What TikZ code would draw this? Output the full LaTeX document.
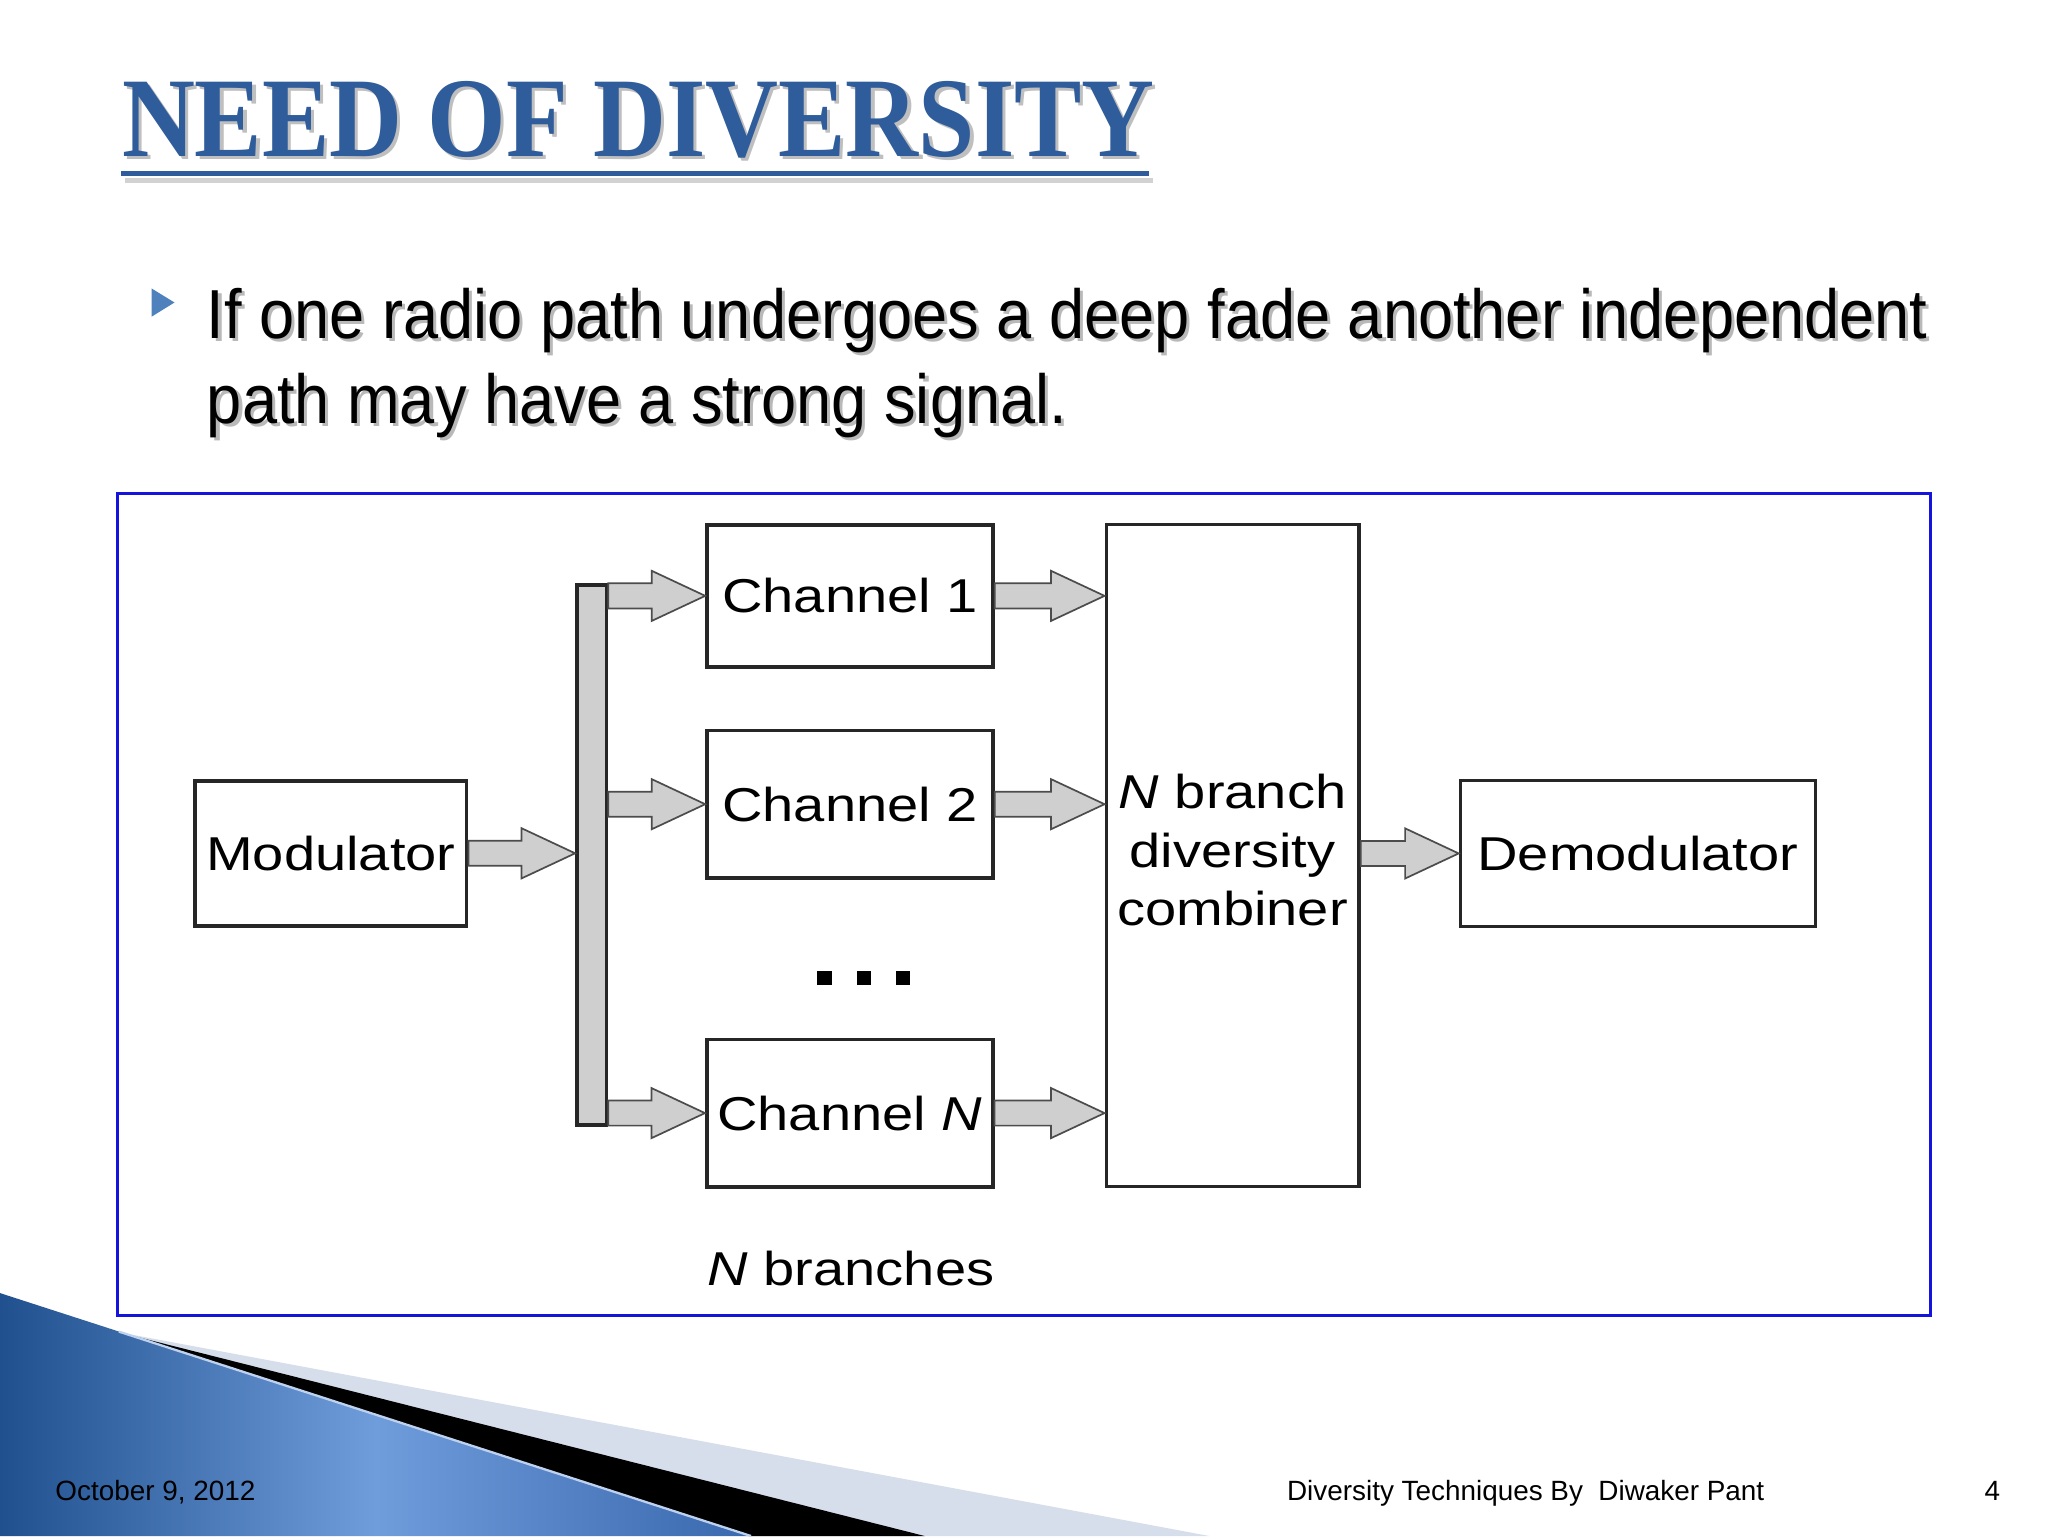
\documentclass[tikz,border=0pt]{standalone}
\usepackage{fontspec}
\usepackage{graphicx}
\setmainfont{Liberation Sans}
\newfontfamily\titlefont{Liberation Serif}
\usetikzlibrary{calc}
\definecolor{titleblue}{HTML}{2F5C9A}
\definecolor{bulblue}{HTML}{4F81BD}
\definecolor{framblue}{HTML}{1414DC}
\definecolor{swdark}{HTML}{20508E}
\definecolor{swlight}{HTML}{6F9CDB}
\definecolor{swmid}{HTML}{3A68AE}
\definecolor{swpale}{HTML}{D6DEEC}
\definecolor{busgray}{HTML}{CFCFCF}
\newcommand\upx{0.4592pt}
\newcommand\diag{\fontsize{16.7}{20.5}\selectfont}
\newcommand\wide[1]{\scalebox{1.18}[1]{#1}}
\newcommand\ttlraw{\titlefont\bfseries\fontsize{39.9}{40}\selectfont\scalebox{0.89}[1]{NEED OF DIVERSITY}}
\newcommand\ttl{\rlap{\kern1.1pt\raisebox{-1.1pt}{\color{gray!50}\ttlraw}}{\color{titleblue}\ttlraw}}
\newcommand\shadowed[1]{\rlap{\kern1.1pt\raisebox{-1.1pt}{\color{gray!55}\scalebox{0.91}[1]{#1}}}\scalebox{0.91}[1]{#1}}
\begin{document}
\begin{tikzpicture}[x=0.4592pt,y=-0.4592pt,
  box/.style={draw=black!85,line width=1.25pt,fill=white,inner sep=0pt,font=\diag},
  busbar/.style={draw=black!85,line width=1.25pt,fill=busgray,inner sep=0pt},
  barrow/.style={draw=black!70,fill=busgray,line width=0.6pt,
    to path={let \p1=(\tikztostart), \p2=(\tikztotarget) in
      (\x1,\y2+9.6*\upx) -- (\x2-41*\upx,\y2+9.6*\upx) -- (\x2-41*\upx,\y2+19.2*\upx)
      -- (\x2,\y2) -- (\x2-41*\upx,\y2-19.2*\upx) -- (\x2-41*\upx,\y2-9.6*\upx)
      -- (\x1,\y2-9.6*\upx) -- cycle}},
  plain/.style={inner sep=0pt,font=\diag},
  foot/.style={inner sep=0pt,font=\fontsize{9.8}{11}\selectfont,text=black},
  bullettext/.style={inner sep=0pt,font=\fontsize{24.4}{29.85}\selectfont},
]
\useasboundingbox (0,0) rectangle (1568,1176);
\fill[white] (0,0) rectangle (1568,1176);

% bottom-left swoosh
\fill[swpale] (91,1020) -- (926,1176) -- (575,1176) -- cycle;
\fill[black] (91,1020) -- (708,1176) -- (575,1176) -- cycle;
\shade[left color=swdark,right color=swmid,middle color=swlight] (0,990) -- (575,1176) -- (0,1176) -- cycle;
\draw[white!55!swlight,line width=0.8pt] (91,1019.5) -- (575,1176);

% title
\node[anchor=base west,inner sep=0pt] (title) at (93,120) {\ttl};
\fill[gray!35] (96,136) rectangle (883,140);
\fill[titleblue] (93,131) rectangle (880,134.8);

% bullet
\fill[bulblue] (116,220.8) -- (133.6,231.6) -- (116,242.5) -- cycle;
\node[bullettext,anchor=base west] (b1) at (158,259) {\shadowed{If one radio path undergoes a deep fade another independent}};
\node[bullettext,anchor=base west] (b2) at (158,324) {\shadowed{path may have a strong signal.}};

% frame
\draw[framblue,line width=1.1pt] (90,378) rectangle (1478,1007);

% diagram
\node[box,minimum width=208*\upx,minimum height=111*\upx] (mod) at (253.3,653.3) {\wide{Modulator}};
\node[busbar,minimum width=22.6*\upx,minimum height=413.4*\upx] (bus) at (453,654.7) {};
\node[box,minimum width=219*\upx,minimum height=108.5*\upx] (ch1) at (650.8,456.2) {\wide{Channel 1}};
\node[box,minimum width=219*\upx,minimum height=113*\upx] (ch2) at (650.8,615.7) {\wide{Channel 2}};
\node[box,minimum width=219*\upx,minimum height=112.8*\upx] (chN) at (650.6,852.2) {\wide{Channel \textit{N}}};
\node[box,minimum width=193.4*\upx,minimum height=507*\upx] (comb) at (943.7,654.9)
  {\wide{\begin{tabular}{@{}c@{}}\textit{N} branch\\diversity\\combiner\end{tabular}}};
\node[box,minimum width=271.7*\upx,minimum height=111.6*\upx] (demod) at (1254,653.4) {\wide{Demodulator}};
\node[inner sep=0pt] (dots) at (661.2,748.7) {\rule{5pt}{5pt}\hspace{9pt}\rule{5pt}{5pt}\hspace{8.5pt}\rule{5pt}{5pt}};
\node[plain] (nbr) at (651.5,971) {\wide{\textit{N} branches}};

\draw[barrow] (mod.east) to (bus.west |- mod.east);
\draw[barrow] (bus.east |- ch1.west) to (ch1.west);
\draw[barrow] (bus.east |- ch2.west) to (ch2.west);
\draw[barrow] (bus.east |- chN.west) to (chN.west);
\draw[barrow] (ch1.east) to (comb.west |- ch1.east);
\draw[barrow] (ch2.east) to (comb.west |- ch2.east);
\draw[barrow] (chN.east) to (comb.west |- chN.east);
\draw[barrow] (comb.east |- demod.west) to (demod.west);

% footer
\node[foot,anchor=base west] (date) at (42,1148.5) {October 9, 2012};
\node[foot,anchor=base west] (auth) at (985,1148.5) {Diversity Techniques By\ \ Diwaker Pant};
\node[foot,anchor=base west] (pg) at (1519,1148.5) {4};
\end{tikzpicture}
\end{document}
